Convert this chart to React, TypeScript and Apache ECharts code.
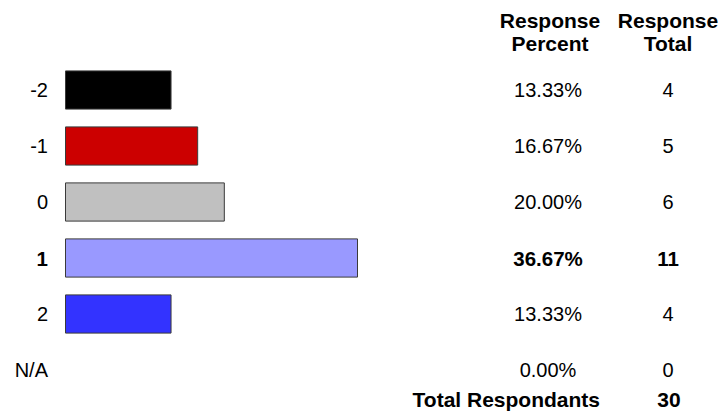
import React, { useEffect, useRef } from "react";
import * as echarts from "echarts";

const categories = ["-2", "-1", "0", "1", "2", "N/A"];
const counts = [4, 5, 6, 11, 4, 0];
const percents = ["13.33%", "16.67%", "20.00%", "36.67%", "13.33%", "0.00%"];
const barColors = ["#000000", "#CC0000", "#C0C0C0", "#9999FF", "#3333FF", "#FFFFFF"];
const boldIndex = 3;
const headerPercent = "Response\nPercent";
const headerTotal = "Response\nTotal";
const footerLabel = "Total Respondants";

const FONT = "'Liberation Sans', Arial, sans-serif";

export default function App() {
  const ref = useRef<HTMLDivElement>(null);
  useEffect(() => {
    if (!ref.current) return;
    const chart = echarts.init(ref.current, null, { renderer: "svg" });
    const total = counts.reduce((a, b) => a + b, 0);
    const rich = {
      n: { fontFamily: FONT, fontSize: 20, color: "#000" },
      b: { fontFamily: FONT, fontSize: 20.5, color: "#000", fontWeight: "bold" as const },
    };
    const fmt = (vals: string[]) => (_v: string, i: number) =>
      i === boldIndex ? `{b|${vals[i]}}` : `{n|${vals[i]}}`;
    const gridLeft = 65;
    const gridWidth = 293;
    const rightEdge = gridLeft + gridWidth;
    const pctCenter = 548;
    const totCenter = 668;
    chart.setOption({
      animation: false,
      grid: { left: gridLeft, top: 62, width: gridWidth, height: 336 },
      xAxis: { type: "value", min: 0, max: 11, show: false },
      yAxis: [
        {
          type: "category",
          data: categories,
          inverse: true,
          axisLine: { show: false },
          axisTick: { show: false },
          axisLabel: { margin: 17, formatter: fmt(categories), rich },
        },
        {
          type: "category",
          data: categories,
          inverse: true,
          position: "right",
          offset: pctCenter - rightEdge,
          axisLine: { show: false },
          axisTick: { show: false },
          axisLabel: { margin: 0, align: "center", formatter: fmt(percents), rich },
        },
        {
          type: "category",
          data: categories,
          inverse: true,
          position: "right",
          offset: totCenter - rightEdge,
          axisLine: { show: false },
          axisTick: { show: false },
          axisLabel: {
            margin: 0,
            align: "center",
            formatter: fmt(counts.map(String)),
            rich,
          },
        },
      ],
      series: [
        {
          type: "bar",
          barWidth: "70%",
          data: counts.map((v, i) => ({
            value: v,
            itemStyle: {
              color: barColors[i],
              borderColor: "#3a3a3a",
              borderWidth: v > 0 ? 1 : 0,
            },
          })),
        },
      ],
      graphic: [
        {
          type: "text",
          x: 550,
          y: 32,
          style: {
            text: headerPercent,
            font: `bold 21px ${FONT}`,
            lineHeight: 23,
            align: "center",
            verticalAlign: "middle",
            fill: "#000",
          },
        },
        {
          type: "text",
          x: 668,
          y: 32,
          style: {
            text: headerTotal,
            font: `bold 21px ${FONT}`,
            lineHeight: 23,
            align: "center",
            verticalAlign: "middle",
            fill: "#000",
          },
        },
        {
          type: "text",
          x: 600,
          y: 399,
          style: {
            text: footerLabel,
            font: `bold 21px ${FONT}`,
            align: "right",
            verticalAlign: "middle",
            fill: "#000",
          },
        },
        {
          type: "text",
          x: 669,
          y: 399,
          style: {
            text: String(total),
            font: `bold 21px ${FONT}`,
            align: "center",
            verticalAlign: "middle",
            fill: "#000",
          },
        },
      ],
    });
    return () => chart.dispose();
  }, []);
  return (
    <div
      ref={ref}
      style={{ position: "fixed", left: 0, top: 0, width: 724, height: 412, background: "#fff" }}
    />
  );
}
